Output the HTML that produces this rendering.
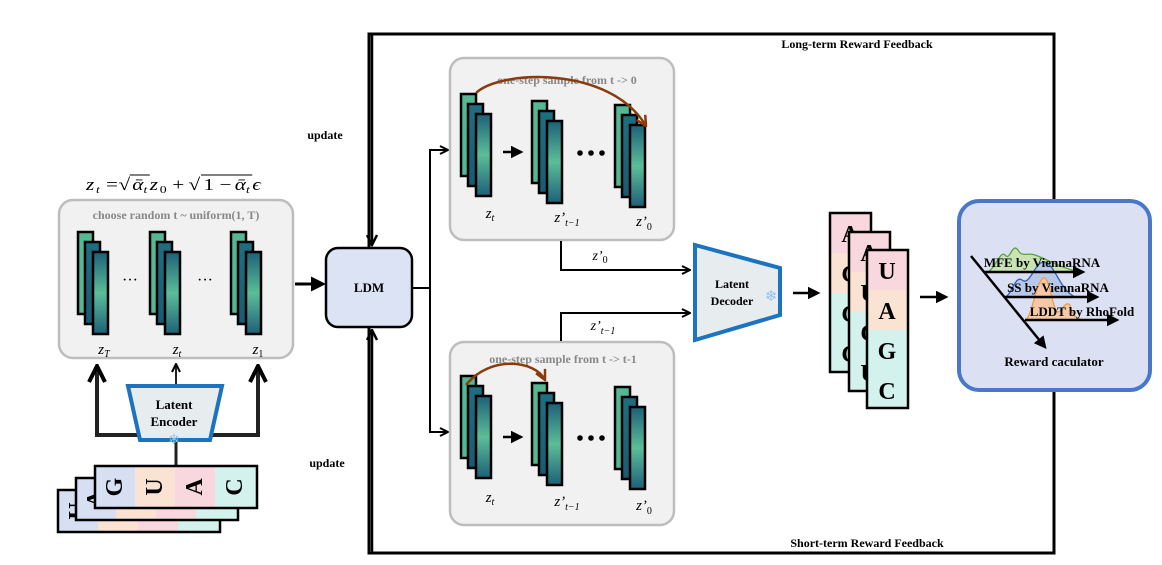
<!DOCTYPE html>
<html><head><meta charset="utf-8"><style>body{margin:0;background:#fff}svg{display:block}</style></head>
<body>
<svg width="1162" height="565" viewBox="0 0 1162 565" xmlns="http://www.w3.org/2000/svg" font-family="Liberation Serif, serif">
<defs>
<linearGradient id="g1" x1="0" y1="0" x2="0" y2="1"><stop offset="0" stop-color="#1d6078"/><stop offset="0.5" stop-color="#5cbd98"/><stop offset="1" stop-color="#1d6078"/></linearGradient>
<linearGradient id="g2" x1="0" y1="0" x2="0" y2="1"><stop offset="0" stop-color="#1f6e80"/><stop offset="1" stop-color="#1a5a74"/></linearGradient>
<g id="st">
<rect x="0" y="0" width="15" height="82" fill="#55b793" stroke="#000" stroke-width="2.5"/>
<rect x="7" y="10" width="15" height="82" fill="url(#g2)" stroke="#000" stroke-width="2.5"/>
<rect x="15" y="20" width="15" height="82" fill="url(#g1)" stroke="#000" stroke-width="2.5"/>
</g>
<marker id="ah" viewBox="0 0 10 10" refX="8" refY="5" markerWidth="5" markerHeight="5" orient="auto"><path d="M0,0 L10,5 L0,10 Z" fill="#000"/></marker>
<marker id="av" viewBox="0 0 10 10" refX="9" refY="5" markerWidth="5" markerHeight="5" orient="auto"><path d="M1,1 L9,5 L1,9" fill="none" stroke="#000" stroke-width="2"/></marker>
<marker id="ab" viewBox="0 0 10 10" refX="9" refY="5" markerWidth="5" markerHeight="5" orient="auto"><path d="M1,1 L9,5 L1,9" fill="none" stroke="#8b3a0c" stroke-width="2"/></marker>
</defs>

<rect x="369" y="34" width="685" height="519" fill="none" stroke="#000" stroke-width="3"/>
<text x="857" y="48" font-size="12" font-weight="bold" text-anchor="middle">Long-term Reward Feedback</text>
<text x="867" y="547" font-size="12" font-weight="bold" text-anchor="middle">Short-term Reward Feedback</text>
<text x="325" y="139" font-size="12" font-weight="bold" text-anchor="middle">update</text>
<text x="327" y="467" font-size="12" font-weight="bold" text-anchor="middle">update</text>

<g transform="translate(86,0) scale(1.25,1) translate(-86,0)">
<g font-size="17">
<text x="86" y="190" font-style="italic">z</text><text x="94" y="193" font-size="11" font-style="italic">t</text>
<text x="102" y="190">=</text>
<text x="112" y="190">√</text>
<text x="123" y="190" font-style="italic">ᾱ</text><text x="132" y="193" font-size="11" font-style="italic">t</text>
<text x="137" y="190" font-style="italic">z</text><text x="145" y="193" font-size="11">0</text>
<text x="155" y="190">+</text>
<text x="168" y="190">√</text>
<text x="180" y="190">1 −</text>
<text x="205" y="190" font-style="italic">ᾱ</text><text x="214" y="193" font-size="11" font-style="italic">t</text>
<text x="219" y="190" font-style="italic">ϵ</text>
</g>
<line x1="121" y1="175" x2="137" y2="175" stroke="#000" stroke-width="1"/>
<line x1="178" y1="175" x2="219" y2="175" stroke="#000" stroke-width="1"/>
</g>

<rect x="59" y="200" width="234" height="158" rx="14" fill="#f1f1f1" stroke="#bdbdbd" stroke-width="2.5"/>
<text x="176" y="219" font-size="12" font-weight="bold" fill="#888" text-anchor="middle">choose random t ~ uniform(1, T)</text>
<use href="#st" x="78" y="232"/><use href="#st" x="150" y="232"/><use href="#st" x="231" y="232"/>
<text x="130" y="285" font-size="16" text-anchor="middle">···</text>
<text x="205" y="285" font-size="16" text-anchor="middle">···</text>
<text x="104" y="354" font-size="15" font-style="italic" text-anchor="middle">z<tspan font-size="10" dy="3">T</tspan></text>
<text x="177" y="354" font-size="15" font-style="italic" text-anchor="middle">z<tspan font-size="10" dy="3">t</tspan></text>
<text x="258" y="354" font-size="15" font-style="italic" text-anchor="middle">z<tspan font-size="10" dy="3" font-style="normal">1</tspan></text>

<path d="M140,435 H97 V366" fill="none" stroke="#222" stroke-width="4" marker-end="url(#av)"/>
<path d="M210,435 H258 V366" fill="none" stroke="#222" stroke-width="4" marker-end="url(#av)"/>
<path d="M176,385 V364" fill="none" stroke="#222" stroke-width="2" marker-end="url(#av)"/>
<line x1="176" y1="440" x2="176" y2="466" stroke="#222" stroke-width="3"/>
<polygon points="128,386 222,386 210,440 140,440" fill="#e7ecef" stroke="#1c73c0" stroke-width="4"/>
<text x="174" y="409" font-size="13" font-weight="bold" text-anchor="middle">Latent</text>
<text x="174" y="426" font-size="13" font-weight="bold" text-anchor="middle">Encoder</text>
<text x="174" y="444" font-size="14" fill="#8ec3ee" text-anchor="middle">❄</text>

<g font-size="24" font-weight="bold">
<g transform="translate(-37,24)">
<rect x="95" y="466" width="40" height="42" fill="#d7dff3"/><rect x="135" y="466" width="40" height="42" fill="#fbe3d3"/><rect x="175" y="466" width="40" height="42" fill="#f8d7de"/><rect x="215" y="466" width="42" height="42" fill="#d3f2ee"/>
<rect x="95" y="466" width="162" height="42" fill="none" stroke="#000" stroke-width="2.5"/>
<text transform="translate(115,487) rotate(-90)" text-anchor="middle" dominant-baseline="central">U</text>
<text transform="translate(155,487) rotate(-90)" text-anchor="middle" dominant-baseline="central">C</text>
<text transform="translate(195,487) rotate(-90)" text-anchor="middle" dominant-baseline="central">A</text>
<text transform="translate(235,487) rotate(-90)" text-anchor="middle" dominant-baseline="central">C</text>
</g>
<g transform="translate(-19,12)">
<rect x="95" y="466" width="40" height="42" fill="#d7dff3"/><rect x="135" y="466" width="40" height="42" fill="#fbe3d3"/><rect x="175" y="466" width="40" height="42" fill="#f8d7de"/><rect x="215" y="466" width="42" height="42" fill="#d3f2ee"/>
<rect x="95" y="466" width="162" height="42" fill="none" stroke="#000" stroke-width="2.5"/>
<text transform="translate(115,487) rotate(-90)" text-anchor="middle" dominant-baseline="central">A</text>
<text transform="translate(155,487) rotate(-90)" text-anchor="middle" dominant-baseline="central">U</text>
<text transform="translate(195,487) rotate(-90)" text-anchor="middle" dominant-baseline="central">C</text>
<text transform="translate(235,487) rotate(-90)" text-anchor="middle" dominant-baseline="central">C</text>
</g>
<g>
<rect x="95" y="466" width="40" height="42" fill="#d7dff3"/><rect x="135" y="466" width="40" height="42" fill="#fbe3d3"/><rect x="175" y="466" width="40" height="42" fill="#f8d7de"/><rect x="215" y="466" width="42" height="42" fill="#d3f2ee"/>
<rect x="95" y="466" width="162" height="42" fill="none" stroke="#000" stroke-width="2.5"/>
<text transform="translate(115,487) rotate(-90)" text-anchor="middle" dominant-baseline="central">G</text>
<text transform="translate(155,487) rotate(-90)" text-anchor="middle" dominant-baseline="central">U</text>
<text transform="translate(195,487) rotate(-90)" text-anchor="middle" dominant-baseline="central">A</text>
<text transform="translate(235,487) rotate(-90)" text-anchor="middle" dominant-baseline="central">C</text>
</g>
</g>

<line x1="295" y1="284" x2="323" y2="284" stroke="#000" stroke-width="3" marker-end="url(#ah)"/>
<line x1="372" y1="35" x2="372" y2="245" stroke="#000" stroke-width="2.5" marker-end="url(#av)"/>
<line x1="372" y1="552" x2="372" y2="330" stroke="#000" stroke-width="2.5" marker-end="url(#av)"/>
<rect x="326" y="248" width="86" height="79" rx="12" fill="#dbe3f5" stroke="#000" stroke-width="2.5"/>
<text x="369" y="292" font-size="13" font-weight="bold" text-anchor="middle">LDM</text>
<path d="M412,288 H430 V150 H448" fill="none" stroke="#000" stroke-width="2" marker-end="url(#av)"/>
<path d="M430,288 V432 H448" fill="none" stroke="#000" stroke-width="2" marker-end="url(#av)"/>

<rect x="450" y="58" width="224" height="182" rx="14" fill="#f1f1f1" stroke="#bdbdbd" stroke-width="2.5"/>
<text x="567" y="84" font-size="12" font-weight="bold" fill="#888" text-anchor="middle">one-step sample from t -&gt; 0</text>
<use href="#st" x="461" y="94"/><use href="#st" x="532" y="101"/><use href="#st" x="615" y="105"/>
<line x1="503" y1="152" x2="521" y2="152" stroke="#000" stroke-width="2.5" marker-end="url(#ah)"/>
<g fill="#000"><circle cx="580" cy="153" r="2.8"/><circle cx="591" cy="153" r="2.8"/><circle cx="602" cy="153" r="2.8"/></g>
<path d="M476,93 C500,70 610,65 646,126" fill="none" stroke="#8b3a0c" stroke-width="2.5" marker-end="url(#ab)"/>
<text x="490" y="218" font-size="15" font-style="italic" text-anchor="middle">z<tspan font-size="10" dy="3">t</tspan></text>
<text x="567" y="222" font-size="15" font-style="italic" text-anchor="middle">z’<tspan font-size="10" dy="4">t−1</tspan></text>
<text x="644" y="226" font-size="15" font-style="italic" text-anchor="middle">z’<tspan font-size="10" dy="4" font-style="normal">0</tspan></text>

<rect x="450" y="342" width="224" height="183" rx="14" fill="#f1f1f1" stroke="#bdbdbd" stroke-width="2.5"/>
<text x="563" y="363" font-size="12" font-weight="bold" fill="#888" text-anchor="middle">one-step sample from t -&gt; t-1</text>
<use href="#st" x="461" y="376"/><use href="#st" x="532" y="383"/><use href="#st" x="615" y="387"/>
<line x1="503" y1="437" x2="521" y2="437" stroke="#000" stroke-width="2.5" marker-end="url(#ah)"/>
<g fill="#000"><circle cx="580" cy="438" r="2.8"/><circle cx="591" cy="438" r="2.8"/><circle cx="602" cy="438" r="2.8"/></g>
<path d="M466,385 C490,355 535,360 545,380" fill="none" stroke="#8b3a0c" stroke-width="2.5" marker-end="url(#ab)"/>
<text x="490" y="502" font-size="15" font-style="italic" text-anchor="middle">z<tspan font-size="10" dy="3">t</tspan></text>
<text x="567" y="506" font-size="15" font-style="italic" text-anchor="middle">z’<tspan font-size="10" dy="4">t−1</tspan></text>
<text x="644" y="510" font-size="15" font-style="italic" text-anchor="middle">z’<tspan font-size="10" dy="4" font-style="normal">0</tspan></text>

<path d="M561,241 V270 H690" fill="none" stroke="#000" stroke-width="2" marker-end="url(#av)"/>
<path d="M561,341 V313 H690" fill="none" stroke="#000" stroke-width="2" marker-end="url(#av)"/>
<text x="600" y="260" font-size="14" font-style="italic" text-anchor="middle">z’<tspan font-size="10" dy="3" font-style="normal">0</tspan></text>
<text x="603" y="330" font-size="14" font-style="italic" text-anchor="middle">z’<tspan font-size="10" dy="4">t−1</tspan></text>
<polygon points="695,245 780,268 780,315 695,340" fill="#e7ecef" stroke="#1c73c0" stroke-width="4"/>
<text x="732" y="288" font-size="12" font-weight="bold" text-anchor="middle">Latent</text>
<text x="732" y="305" font-size="12" font-weight="bold" text-anchor="middle">Decoder</text>
<text x="771" y="301" font-size="15" fill="#8ec3ee" text-anchor="middle">❄</text>
<line x1="793" y1="293" x2="818" y2="293" stroke="#000" stroke-width="2.5" marker-end="url(#ah)"/>

<g font-size="24" font-weight="bold" text-anchor="middle">
<g>
<rect x="830" y="213" width="41" height="40" fill="#f8d7de"/><rect x="830" y="253" width="41" height="40" fill="#fbe3d3"/><rect x="830" y="293" width="41" height="79" fill="#d3f2ee"/>
<rect x="830" y="213" width="41" height="159" fill="none" stroke="#000" stroke-width="2.5"/>
<text x="850" y="242">A</text><text x="850" y="282">C</text><text x="850" y="322">C</text><text x="850" y="362">C</text>
</g>
<g>
<rect x="849" y="232" width="41" height="40" fill="#f8d7de"/><rect x="849" y="272" width="41" height="40" fill="#fbe3d3"/><rect x="849" y="312" width="41" height="79" fill="#d3f2ee"/>
<rect x="849" y="232" width="41" height="159" fill="none" stroke="#000" stroke-width="2.5"/>
<text x="869" y="261">A</text><text x="869" y="301">U</text><text x="869" y="341">C</text><text x="869" y="381">U</text>
</g>
<g>
<rect x="867" y="250" width="41" height="40" fill="#f8d7de"/><rect x="867" y="290" width="41" height="40" fill="#fbe3d3"/><rect x="867" y="330" width="41" height="78" fill="#d3f2ee"/>
<rect x="867" y="250" width="41" height="158" fill="none" stroke="#000" stroke-width="2.5"/>
<text x="887" y="279">U</text><text x="887" y="319">A</text><text x="887" y="359">G</text><text x="887" y="399">C</text>
</g>
</g>
<line x1="920" y1="297" x2="946" y2="297" stroke="#000" stroke-width="2.5" marker-end="url(#ah)"/>

<rect x="959" y="201" width="191" height="189" rx="20" fill="#dbe1f3" stroke="#4a78c8" stroke-width="4"/>
<path d="M987,272 C995,270 1000,250 1005,255 C1010,262 1012,242 1018,250 C1022,258 1028,252 1035,255 C1045,258 1060,268 1080,272 Z" fill="#c9e3b5" stroke="#59a43a" stroke-width="1.3"/>
<path d="M1005,297 C1012,295 1015,275 1022,280 C1030,287 1035,260 1045,262 C1055,265 1060,290 1075,297 Z" fill="#b8c8e8" stroke="#2f5fb8" stroke-width="1.3"/>
<path d="M1025,320 C1032,318 1035,285 1043,278 C1050,275 1052,310 1058,312 C1062,312 1065,300 1070,305 C1072,315 1075,320 1088,320 Z" fill="#f6c9a5" stroke="#f09a4c" stroke-width="1.3"/>
<line x1="985" y1="272" x2="1083" y2="272" stroke="#000" stroke-width="2.5" marker-end="url(#ah)"/>
<line x1="1005" y1="297" x2="1097" y2="297" stroke="#000" stroke-width="2.5" marker-end="url(#ah)"/>
<line x1="1025" y1="320" x2="1117" y2="320" stroke="#000" stroke-width="2.5" marker-end="url(#ah)"/>
<line x1="971" y1="256" x2="1045" y2="347" stroke="#000" stroke-width="2.5" marker-end="url(#ah)"/>
<g font-size="13" font-weight="bold" text-anchor="middle">
<text x="1042" y="267">MFE  by ViennaRNA</text>
<text x="1058" y="292">SS by ViennaRNA</text>
<text x="1082" y="316">LDDT by RhoFold</text>
<text x="1054" y="366">Reward caculator</text>
</g>
</svg>
</body></html>
